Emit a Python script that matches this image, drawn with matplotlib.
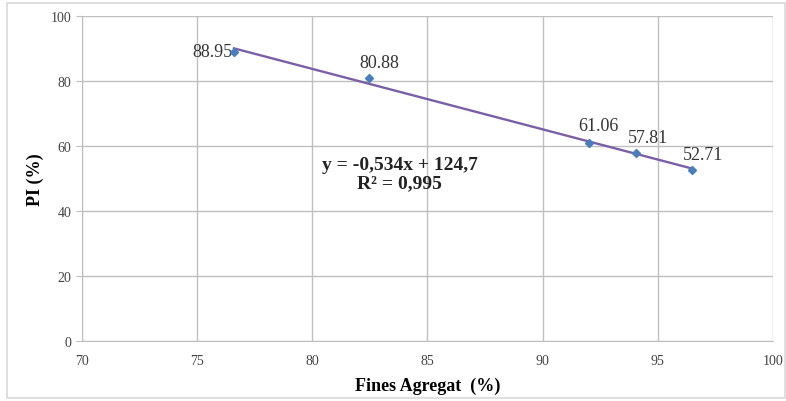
import numpy as np
import matplotlib
matplotlib.use("Agg")
import matplotlib.pyplot as plt
from matplotlib.patches import Rectangle

# %% Data
fines = [76.6, 82.45, 92.0, 94.05, 96.5]
pi_vals = [88.95, 80.88, 61.06, 57.81, 52.71]
pi_labels = ["88.95", "80.88", "61.06", "57.81", "52.71"]
equation = "y = -0,534x + 124,7\nR² = 0,995"

# %% Style
plt.rcParams["font.family"] = ["Liberation Serif", "DejaVu Serif"]
GRID_C = "#bfbfbf"
LINE_C = "#7a5fa6"
MARK_C = "#4a7ebb"

fig = plt.figure(figsize=(7.86, 4.02), dpi=100)
fig.patches.append(Rectangle((0.009, 0.008), 0.99, 0.983, transform=fig.transFigure,
                             fill=False, edgecolor="#d9d9d9", lw=1.2))
ax = fig.add_axes([0.1043, 0.149, 0.879, 0.8085])

# trendline from the points themselves
coef = np.polyfit(fines, pi_vals, 1)
xf = np.array([min(fines), max(fines)])
ax.plot(xf, np.polyval(coef, xf), color=LINE_C, lw=1.7, zorder=3)
ax.plot(fines, pi_vals, "D", color=MARK_C, ms=4.5, zorder=4)

# first label sits left of its point, the others above-right
offsets = [(-1, 0), (8, 5), (7, 6), (9, 5), (8, 5)]
for i, (x, y, lab) in enumerate(zip(fines, pi_vals, pi_labels)):
    off = offsets[i]
    if i == 0:
        ax.annotate(lab, (x, y), xytext=off, textcoords="offset points",
                    ha="right", va="center", fontsize=13, color="#333333")
    else:
        ax.annotate(lab, (x, y), xytext=off, textcoords="offset points",
                    ha="center", va="bottom", fontsize=13, color="#333333")

ax.text(83.8, 51.5, equation, ha="center", va="center", fontsize=14,
        fontweight="bold", linespacing=1.05, color="#222222")

ax.set_xlim(70, 100)
ax.set_ylim(0, 100)
ax.set_xticks(range(70, 101, 5))
ax.set_yticks(range(0, 101, 20))
ax.grid(True, color=GRID_C, lw=1)
ax.set_axisbelow(True)
for s in ["top", "right"]:
    ax.spines[s].set_visible(False)
for s in ["left", "bottom"]:
    ax.spines[s].set_color(GRID_C)
ax.tick_params(axis="y", length=4, color=GRID_C, labelsize=10, labelcolor="#444444")
ax.tick_params(axis="x", length=0, labelsize=10, labelcolor="#444444", pad=9)

ax.set_xlabel("Fines Agregat  (%)", fontsize=13, fontweight="bold", labelpad=7)
ax.set_ylabel("PI (%)", fontsize=13, fontweight="bold", labelpad=5)

fig.savefig("out.png", dpi=100)
